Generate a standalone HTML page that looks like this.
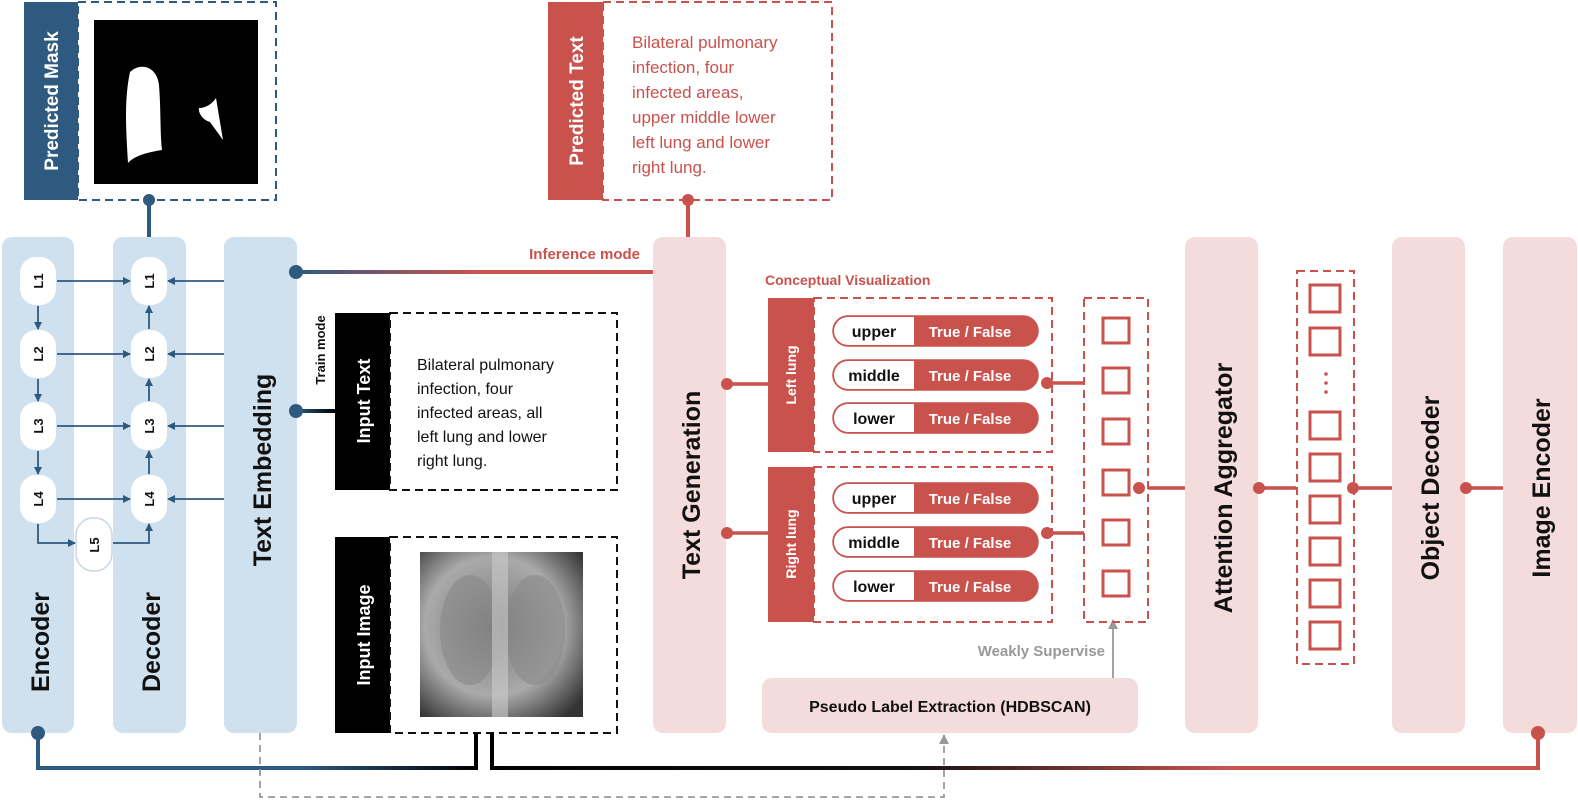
<!DOCTYPE html>
<html><head><meta charset="utf-8"><style>
html,body{margin:0;padding:0;background:#fff;}
svg{display:block;font-family:"Liberation Sans",sans-serif;}
.lab{font-weight:bold;font-size:25px;fill:#111;}
.pt{font-size:13px;font-weight:bold;fill:#111;}
.tf{font-size:15px;font-weight:bold;fill:#fff;}
.pl{font-size:16px;font-weight:bold;fill:#111;}
</style></head><body>
<svg width="1578" height="803" viewBox="0 0 1578 803" xmlns="http://www.w3.org/2000/svg">
<defs>
<linearGradient id="g1" gradientUnits="userSpaceOnUse" x1="296" y1="0" x2="653" y2="0"><stop offset="0" stop-color="#2e5a80"/><stop offset="0.5" stop-color="#c9524c"/><stop offset="1" stop-color="#c9524c"/></linearGradient>
<linearGradient id="g2" gradientUnits="userSpaceOnUse" x1="38" y1="0" x2="476" y2="0"><stop offset="0" stop-color="#2e5a80"/><stop offset="0.6" stop-color="#2e5a80"/><stop offset="1" stop-color="#000"/></linearGradient>
<linearGradient id="g3" gradientUnits="userSpaceOnUse" x1="492" y1="0" x2="1538" y2="0"><stop offset="0" stop-color="#000"/><stop offset="0.4" stop-color="#111"/><stop offset="0.7" stop-color="#c9524c"/><stop offset="1" stop-color="#c9524c"/></linearGradient>
<linearGradient id="g4" gradientUnits="userSpaceOnUse" x1="296" y1="0" x2="335" y2="0"><stop offset="0" stop-color="#2e5a80"/><stop offset="1" stop-color="#000"/></linearGradient>
<radialGradient id="xr" cx="0.45" cy="0.45" r="0.7"><stop offset="0" stop-color="#777"/><stop offset="0.6" stop-color="#aaa"/><stop offset="1" stop-color="#333"/></radialGradient>
<marker id="ab" markerWidth="8" markerHeight="8" refX="7" refY="4" orient="auto" markerUnits="userSpaceOnUse"><path d="M0,0 L8,4 L0,8 z" fill="#2e5a80"/></marker>
<marker id="ag" markerWidth="10" markerHeight="10" refX="9" refY="5" orient="auto" markerUnits="userSpaceOnUse"><path d="M0,0 L10,5 L0,10 z" fill="#999"/></marker>
</defs>

<!-- Predicted Mask -->
<rect x="24" y="2" width="54" height="198" fill="#2e5a80"/>
<rect x="78" y="2" width="198" height="198" fill="none" stroke="#2e5a80" stroke-width="2" stroke-dasharray="8,5"/>
<text transform="translate(58,101) rotate(-90)" text-anchor="middle" font-size="19" font-weight="bold" fill="#fff">Predicted Mask</text>
<rect x="94" y="20" width="164" height="164" fill="#000"/>
<path d="M130,72 C140,62 157,66 159,85 C161,110 160,135 162,150 C150,152 135,155 128,163 C126,130 124,100 130,72 Z" fill="#fff"/>
<path d="M216,98 L223,140 L210,122 C203,120 198,113 199,108 C206,108 212,104 216,98 Z" fill="#fff"/>
<line x1="149" y1="200" x2="149" y2="237" stroke="#2e5a80" stroke-width="4"/>
<circle cx="149" cy="200" r="6" fill="#2e5a80"/>

<!-- Predicted Text -->
<rect x="548" y="2" width="55" height="198" fill="#c9524c"/>
<rect x="603" y="2" width="229" height="198" fill="none" stroke="#c9524c" stroke-width="2" stroke-dasharray="8,5"/>
<text transform="translate(583,101) rotate(-90)" text-anchor="middle" font-size="19" font-weight="bold" fill="#fff">Predicted Text</text>
<g font-size="17" fill="#c9524c">
<text x="632" y="48">Bilateral pulmonary</text>
<text x="632" y="73">infection, four</text>
<text x="632" y="98">infected areas,</text>
<text x="632" y="123">upper middle lower</text>
<text x="632" y="148">left lung and lower</text>
<text x="632" y="173">right lung.</text>
</g>
<line x1="688" y1="200" x2="688" y2="237" stroke="#c9524c" stroke-width="4"/>
<circle cx="688" cy="200" r="6" fill="#c9524c"/>

<!-- columns -->
<rect x="2" y="237" width="72" height="496" rx="10" fill="#cfe0ee"/>
<rect x="113" y="237" width="73" height="496" rx="10" fill="#cfe0ee"/>
<rect x="224" y="237" width="73" height="496" rx="10" fill="#cfe0ee"/>
<rect x="653" y="237" width="73" height="496" rx="10" fill="#f4dcdc"/>
<rect x="1185" y="237" width="73" height="496" rx="10" fill="#f4dcdc"/>
<rect x="1392" y="237" width="73" height="496" rx="10" fill="#f4dcdc"/>
<rect x="1503" y="237" width="74" height="496" rx="10" fill="#f4dcdc"/>
<text class="lab" transform="translate(49,642) rotate(-90)" text-anchor="middle">Encoder</text>
<text class="lab" transform="translate(160,642) rotate(-90)" text-anchor="middle">Decoder</text>
<text class="lab" transform="translate(271,470) rotate(-90)" text-anchor="middle">Text Embedding</text>
<text class="lab" transform="translate(700,485) rotate(-90)" text-anchor="middle">Text Generation</text>
<text class="lab" transform="translate(1232,488) rotate(-90)" text-anchor="middle">Attention Aggregator</text>
<text class="lab" transform="translate(1439,488) rotate(-90)" text-anchor="middle">Object Decoder</text>
<text class="lab" transform="translate(1550,488) rotate(-90)" text-anchor="middle">Image Encoder</text>

<!-- L nodes -->
<g fill="#fff">
<rect x="20" y="257" width="36" height="48" rx="16"/><rect x="20" y="330" width="36" height="48" rx="16"/>
<rect x="20" y="402" width="36" height="48" rx="16"/><rect x="20" y="475" width="36" height="48" rx="16"/>
<rect x="131" y="257" width="36" height="48" rx="16"/><rect x="131" y="330" width="36" height="48" rx="16"/>
<rect x="131" y="402" width="36" height="48" rx="16"/><rect x="131" y="475" width="36" height="48" rx="16"/>
<rect x="76" y="518" width="36" height="53" rx="17" stroke="#c7d6e4" stroke-width="1.5"/>
</g>
<g class="pt" font-size="13" font-weight="bold" fill="#2e5a80">
<text transform="translate(43,281) rotate(-90)" text-anchor="middle">L1</text>
<text transform="translate(43,354) rotate(-90)" text-anchor="middle">L2</text>
<text transform="translate(43,426) rotate(-90)" text-anchor="middle">L3</text>
<text transform="translate(43,499) rotate(-90)" text-anchor="middle">L4</text>
<text transform="translate(154,281) rotate(-90)" text-anchor="middle">L1</text>
<text transform="translate(154,354) rotate(-90)" text-anchor="middle">L2</text>
<text transform="translate(154,426) rotate(-90)" text-anchor="middle">L3</text>
<text transform="translate(154,499) rotate(-90)" text-anchor="middle">L4</text>
<text transform="translate(99,545) rotate(-90)" text-anchor="middle">L5</text>
</g>
<g stroke="#2e5a80" stroke-width="1.8" fill="none" marker-end="url(#ab)">
<line x1="57" y1="281" x2="130" y2="281"/><line x1="57" y1="354" x2="130" y2="354"/>
<line x1="57" y1="426" x2="130" y2="426"/><line x1="57" y1="499" x2="130" y2="499"/>
<line x1="224" y1="281" x2="168" y2="281"/><line x1="224" y1="354" x2="168" y2="354"/>
<line x1="224" y1="426" x2="168" y2="426"/><line x1="224" y1="499" x2="168" y2="499"/>
<line x1="38" y1="306" x2="38" y2="329"/><line x1="38" y1="379" x2="38" y2="401"/><line x1="38" y1="451" x2="38" y2="474"/>
<line x1="149" y1="329" x2="149" y2="306"/><line x1="149" y1="401" x2="149" y2="379"/><line x1="149" y1="474" x2="149" y2="451"/>
<polyline points="38,524 38,543 75,543"/>
<polyline points="113,543 149,543 149,524"/>
</g>

<!-- inference line -->
<line x1="296" y1="272" x2="653" y2="272" stroke="url(#g1)" stroke-width="4"/>
<circle cx="296" cy="272" r="7" fill="#2e5a80"/>
<text x="640" y="259" text-anchor="end" font-size="15" font-weight="bold" fill="#c9524c">Inference mode</text>
<!-- train mode -->
<line x1="296" y1="411" x2="335" y2="411" stroke="url(#g4)" stroke-width="4"/>
<circle cx="296" cy="411" r="7" fill="#2e5a80"/>
<text transform="translate(325,350) rotate(-90)" text-anchor="middle" font-size="13" font-weight="bold" fill="#111">Train mode</text>

<!-- input text -->
<rect x="335" y="313" width="55" height="177" fill="#000"/>
<rect x="390" y="313" width="227" height="177" fill="none" stroke="#111" stroke-width="2" stroke-dasharray="8,5"/>
<text transform="translate(370,401) rotate(-90)" text-anchor="middle" font-size="18" font-weight="bold" fill="#fff">Input Text</text>
<g font-size="16" fill="#111">
<text x="417" y="370">Bilateral pulmonary</text>
<text x="417" y="394">infection, four</text>
<text x="417" y="418">infected areas, all</text>
<text x="417" y="442">left lung and lower</text>
<text x="417" y="466">right lung.</text>
</g>
<!-- input image -->
<rect x="335" y="537" width="55" height="196" fill="#000"/>
<rect x="390" y="537" width="227" height="196" fill="none" stroke="#111" stroke-width="2" stroke-dasharray="8,5"/>
<text transform="translate(370,635) rotate(-90)" text-anchor="middle" font-size="18" font-weight="bold" fill="#fff">Input Image</text>
<rect x="420" y="552" width="163" height="165" fill="url(#xr)"/>
<ellipse cx="470" cy="630" rx="30" ry="55" fill="#888" opacity="0.6"/>
<ellipse cx="535" cy="630" rx="30" ry="55" fill="#888" opacity="0.6"/>
<rect x="492" y="552" width="16" height="165" fill="#ccc" opacity="0.6"/>

<!-- bottom lines -->
<polyline points="38,733 38,768 476,768 476,733" fill="none" stroke="url(#g2)" stroke-width="4"/>
<circle cx="38" cy="733" r="7" fill="#2e5a80"/>
<polyline points="492,733 492,768 1538,768 1538,733" fill="none" stroke="url(#g3)" stroke-width="4"/>
<circle cx="1538" cy="733" r="7" fill="#c9524c"/>
<polyline points="260,733 260,797 944,797 944,735" fill="none" stroke="#999" stroke-width="1.8" stroke-dasharray="7,5" marker-end="url(#ag)"/>

<!-- pseudo label -->
<rect x="762" y="678" width="376" height="55" rx="10" fill="#f4dcdc"/>
<text x="950" y="712" text-anchor="middle" class="pl">Pseudo Label Extraction (HDBSCAN)</text>
<line x1="1113" y1="678" x2="1113" y2="620" stroke="#999" stroke-width="1.8" marker-end="url(#ag)"/>
<text x="1105" y="656" text-anchor="end" font-size="15" font-weight="bold" fill="#999">Weakly Supervise</text>

<!-- conceptual -->
<text x="765" y="285" font-size="14" font-weight="bold" fill="#c9524c">Conceptual Visualization</text>
<rect x="768" y="298" width="46" height="154" fill="#c9524c"/>
<rect x="814" y="298" width="238" height="154" fill="none" stroke="#c9524c" stroke-width="2" stroke-dasharray="8,5"/>
<text transform="translate(796,375) rotate(-90)" text-anchor="middle" font-size="14" font-weight="bold" fill="#fff">Left lung</text>
<rect x="768" y="467" width="46" height="155" fill="#c9524c"/>
<rect x="814" y="467" width="238" height="155" fill="none" stroke="#c9524c" stroke-width="2" stroke-dasharray="8,5"/>
<text transform="translate(796,544) rotate(-90)" text-anchor="middle" font-size="14" font-weight="bold" fill="#fff">Right lung</text>

<g stroke="#c9524c" stroke-width="1.5">
<rect x="833" y="316" width="205" height="30" rx="15" fill="#c9524c"/>
<rect x="833" y="360" width="205" height="30" rx="15" fill="#c9524c"/>
<rect x="833" y="403" width="205" height="30" rx="15" fill="#c9524c"/>
<rect x="833" y="483" width="205" height="30" rx="15" fill="#c9524c"/>
<rect x="833" y="527" width="205" height="30" rx="15" fill="#c9524c"/>
<rect x="833" y="571" width="205" height="30" rx="15" fill="#c9524c"/>
</g>
<g fill="#fff">
<path d="M848,317 H914 V345 H848 A14,14 0 0 1 848,317 Z"/>
<path d="M848,361 H914 V389 H848 A14,14 0 0 1 848,361 Z"/>
<path d="M848,404 H914 V432 H848 A14,14 0 0 1 848,404 Z"/>
<path d="M848,484 H914 V512 H848 A14,14 0 0 1 848,484 Z"/>
<path d="M848,528 H914 V556 H848 A14,14 0 0 1 848,528 Z"/>
<path d="M848,572 H914 V600 H848 A14,14 0 0 1 848,572 Z"/>
</g>
<g class="tf" text-anchor="middle">
<text x="970" y="337">True / False</text><text x="970" y="381">True / False</text><text x="970" y="424">True / False</text>
<text x="970" y="504">True / False</text><text x="970" y="548">True / False</text><text x="970" y="592">True / False</text>
</g>
<g class="pl" font-size="15" text-anchor="middle">
<text x="874" y="337">upper</text><text x="874" y="381">middle</text><text x="874" y="424">lower</text>
<text x="874" y="504">upper</text><text x="874" y="548">middle</text><text x="874" y="592">lower</text>
</g>

<g stroke="#c9524c" stroke-width="3.5">
<line x1="727" y1="384" x2="768" y2="384"/><line x1="727" y1="533" x2="768" y2="533"/>
<line x1="1052" y1="383" x2="1084" y2="383"/><line x1="1052" y1="533" x2="1084" y2="533"/>
<line x1="1148" y1="488" x2="1185" y2="488"/><line x1="1258" y1="488" x2="1296" y2="488"/>
<line x1="1353" y1="488" x2="1392" y2="488"/><line x1="1465" y1="488" x2="1503" y2="488"/>
</g>
<g fill="#c9524c">
<circle cx="727" cy="384" r="6"/><circle cx="727" cy="533" r="6"/>
<circle cx="1047" cy="383" r="6"/><circle cx="1047" cy="533" r="6"/>
<circle cx="1139" cy="488" r="6"/><circle cx="1259" cy="488" r="6"/>
<circle cx="1353" cy="488" r="6"/><circle cx="1466" cy="488" r="6"/>
</g>

<rect x="1084" y="298" width="64" height="324" fill="none" stroke="#c9524c" stroke-width="2" stroke-dasharray="8,5"/>
<g fill="none" stroke="#c9524c" stroke-width="3">
<rect x="1103" y="318" width="26" height="25"/><rect x="1103" y="368" width="26" height="25"/>
<rect x="1103" y="419" width="26" height="25"/><rect x="1103" y="470" width="26" height="25"/>
<rect x="1103" y="520" width="26" height="25"/><rect x="1103" y="571" width="26" height="25"/>
</g>
<rect x="1297" y="271" width="57" height="393" fill="none" stroke="#c9524c" stroke-width="2" stroke-dasharray="8,5"/>
<g fill="none" stroke="#c9524c" stroke-width="3">
<rect x="1310" y="285" width="30" height="27"/><rect x="1310" y="328" width="30" height="27"/>
<rect x="1310" y="412" width="30" height="27"/><rect x="1310" y="454" width="30" height="27"/>
<rect x="1310" y="496" width="30" height="27"/><rect x="1310" y="538" width="30" height="27"/>
<rect x="1310" y="580" width="30" height="27"/><rect x="1310" y="622" width="30" height="27"/>
</g>
<g fill="#c9524c"><circle cx="1326" cy="374" r="1.8"/><circle cx="1326" cy="383" r="1.8"/><circle cx="1326" cy="392" r="1.8"/></g>
</svg>
</body></html>
